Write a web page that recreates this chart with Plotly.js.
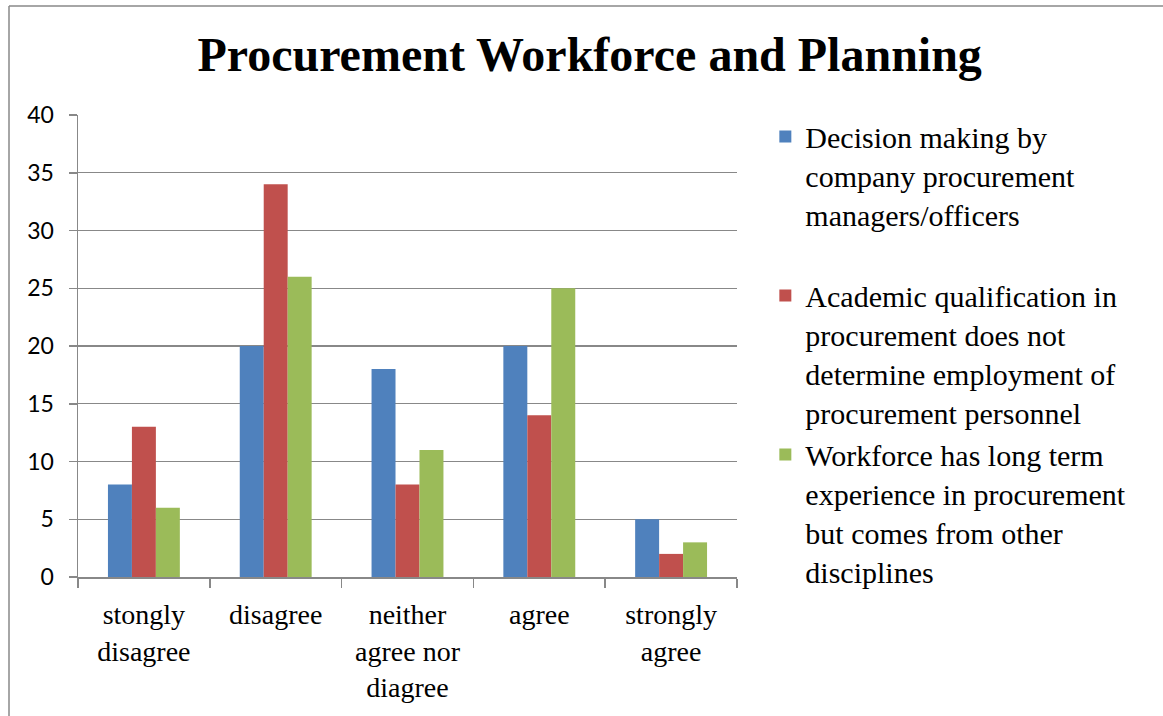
<!DOCTYPE html>
<html>
<head>
<meta charset="utf-8">
<script src="https://cdn.plot.ly/plotly-3.0.1.min.js"></script>
<style>html,body{margin:0;padding:0;background:#fff;}#chart{width:1163px;height:716px;}</style>
</head>
<body>
<div id="chart"></div>
<script>
const categories = ["stongly<br>disagree", "disagree", "neither<br>agree nor<br>diagree", "agree", "strongly<br>agree"];
const seriesNames = [
  "Decision making by<br>company procurement<br>managers/officers<br> ",
  "Academic qualification in<br>procurement does not<br>determine employment of<br>procurement personnel",
  "Workforce has long term<br>experience in procurement<br>but comes from other<br>disciplines"
];
const decisionMaking = [8, 20, 18, 20, 5];
const academicQualification = [13, 34, 8, 14, 2];
const workforceExperience = [6, 26, 11, 25, 3];
const seriesColors = ["#4F81BD", "#C0504D", "#9BBB59"];
const yTicks = [0, 5, 10, 15, 20, 25, 30, 35, 40];

const seriesValues = [decisionMaking, academicQualification, workforceExperience];
const traces = seriesValues.map((vals, i) => ({
  type: "bar",
  x: categories,
  y: vals,
  name: seriesNames[i],
  marker: {color: seriesColors[i], line: {width: 0}},
  hoverinfo: "y"
}));

const serif = "Liberation Serif, Times New Roman, serif";
const layout = {
  width: 1163,
  height: 716,
  paper_bgcolor: "#fff",
  plot_bgcolor: "#fff",
  margin: {l: 78, r: 426, t: 115, b: 139, pad: 0},
  title: {
    text: "<b>Procurement Workforce and Planning</b>",
    font: {family: serif, size: 48, color: "#000"},
    x: 0.507, xanchor: "center",
    y: 0.924, yanchor: "middle"
  },
  barmode: "group",
  bargap: 0.4545,
  bargroupgap: 0,
  showlegend: true,
  legend: {
    x: 1.043, xanchor: "left",
    y: 1.01, yanchor: "top",
    valign: "top",
    font: {family: serif, size: 30, color: "#000"},
    bgcolor: "rgba(0,0,0,0)",
    itemwidth: 30,
    tracegroupgap: 0,
    maxheight: 700
  },
  xaxis: {
    type: "category",
    showline: true, linecolor: "#888", linewidth: 1.5,
    ticks: "outside", tickson: "boundaries", ticklen: 9, tickcolor: "#888", tickwidth: 1.5,
    showgrid: false,
    tickfont: {family: serif, size: 28, color: "#000"},
    ticklabelstandoff: 12,
    fixedrange: true
  },
  yaxis: {
    range: [0, 40],
    tickvals: yTicks,
    ticktext: yTicks.map(String),
    showline: true, linecolor: "#888", linewidth: 1.5,
    ticks: "outside", ticklen: 8, tickcolor: "#888", tickwidth: 1.5,
    showgrid: true, gridcolor: "#888", gridwidth: 1.3,
    zeroline: false,
    tickfont: {family: "Lato, Carlito, sans-serif", size: 23, color: "#000"},
    ticklabelstandoff: 10,
    fixedrange: true
  },
  shapes: [
    {type: "line", xref: "paper", yref: "paper", x0: -0.1047, x1: -0.1047, y0: 1.2359, y1: -0.5, line: {color: "#888", width: 1.5}},
    {type: "line", xref: "paper", yref: "paper", x0: -0.1047, x1: 1.8, y0: 1.2359, y1: 1.2359, line: {color: "#888", width: 1.5}}
  ]
};

Plotly.newPlot("chart", traces, layout, {displayModeBar: false, staticPlot: true});
</script>
</body>
</html>
